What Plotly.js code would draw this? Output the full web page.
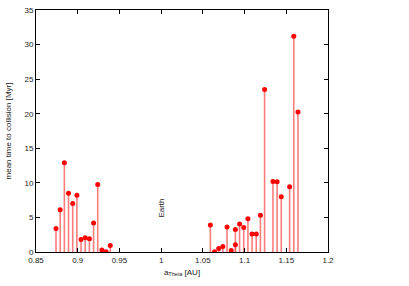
<!DOCTYPE html>
<html><head><meta charset="utf-8">
<script src="https://cdn.plot.ly/plotly-3.0.1.min.js"></script>
<style>html,body{margin:0;padding:0;background:#fff}#c{width:409px;height:286px}</style>
</head><body><div id="c"></div>
<script>
const aTheia = [0.874,0.879,0.884,0.889,0.894,0.899,0.904,0.909,0.914,0.919,0.924,0.929,0.934,0.939,
  1.059,1.064,1.069,1.074,1.079,1.084,1.089,1.089,1.094,1.099,1.104,1.109,1.114,1.119,1.124,1.134,1.139,1.144,1.154,1.159,1.164];
const meanTime = [3.4,6.1,12.9,8.5,7.0,8.2,1.8,2.05,1.9,4.2,9.75,0.3,0.03,0.95,
  3.9,0.05,0.5,0.8,3.6,0.2,3.25,1.05,4.05,3.55,4.8,2.6,2.6,5.3,23.5,10.2,10.15,8.0,9.45,31.2,20.25];
const xTicks = [0.85,0.9,0.95,1,1.05,1.1,1.15,1.2];
const xTickText = ['0.85','0.9','0.95','1','1.05','1.1','1.15','1.2'];
const yTicks = [0,5,10,15,20,25,30,35];
const earthLabel = {x:1.0, y:6.3, text:'Earth'};

const font = 'Liberation Sans, Arial, sans-serif';
const trace = {
  x: aTheia, y: meanTime, type:'scatter', mode:'markers',
  marker:{color:'#ff0000', size:5},
  error_y:{type:'data', symmetric:false, array:meanTime.map(()=>0), arrayminus:meanTime,
    color:'rgba(255,80,80,0.75)', thickness:1.6, width:0},
  hoverinfo:'skip'
};
const axisCommon = {
  showline:true, linecolor:'#000', linewidth:1, mirror:'ticks',
  ticks:'inside', ticklen:4, tickcolor:'#000', tickwidth:1,
  showgrid:false, zeroline:false,
  tickfont:{family:font, size:8, color:'#222'}
};
const layout = {
  width:409, height:286,
  margin:{l:36, r:81, t:10, b:34},
  paper_bgcolor:'#fff', plot_bgcolor:'#fff',
  showlegend:false,
  xaxis: Object.assign({}, axisCommon, {
    range:[0.85,1.2], tickvals:xTicks, ticktext:xTickText,
    title:{text:'a<sub>Theia</sub> [AU]', font:{family:font, size:8, color:'#222'}, standoff:5}
  }),
  yaxis: Object.assign({}, axisCommon, {
    range:[0,35], tickvals:yTicks,
    title:{text:'mean time to collision [Myr]', font:{family:font, size:8, color:'#222'}, standoff:11}
  }),
  annotations:[{x:earthLabel.x, y:earthLabel.y, xref:'x', yref:'y', text:earthLabel.text,
    showarrow:false, textangle:-90, font:{family:font, size:8, color:'#222'}}]
};
Plotly.newPlot('c',[trace],layout,{staticPlot:true, displayModeBar:false});
</script>
</body></html>
